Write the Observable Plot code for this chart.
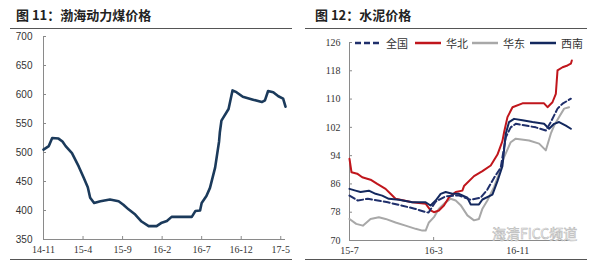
<!DOCTYPE html>
<html><head><meta charset="utf-8">
<script src="https://cdn.jsdelivr.net/npm/d3@7"></script>
<script src="https://cdn.jsdelivr.net/npm/@observablehq/plot@0.6"></script>
<style>
html,body{margin:0;padding:0;background:#fff;}
#wrap{position:relative;width:600px;height:268px;overflow:hidden;font-family:"Noto Sans CJK SC",sans-serif;}
.title{position:absolute;top:5px;font-size:13px;font-weight:bold;color:#222;white-space:nowrap;}
.rule{position:absolute;height:0;border-top:1px solid #555;}
.chart{position:absolute;top:0;}
.leg{position:absolute;top:35px;font-size:11px;color:#333;display:flex;align-items:center;white-space:nowrap;}
.wm{position:absolute;left:492px;top:225px;font-size:14px;line-height:16px;color:#fff;-webkit-text-stroke:0.6px #b8b8b8;white-space:nowrap;font-family:"Noto Sans CJK SC",sans-serif;}
</style></head>
<body><div id="wrap">
<div class="title" style="left:16px">图 11：渤海动力煤价格</div>
<div class="title" style="left:315px">图 12：水泥价格</div>
<div class="rule" style="left:10px;width:282px;top:28px"></div>
<div class="rule" style="left:305px;width:282px;top:28px"></div>
<div class="rule" style="left:10px;width:282px;top:259px"></div>
<div class="rule" style="left:305px;width:282px;top:259px"></div>
<div id="left" class="chart" style="left:0"></div>
<div id="right" class="chart" style="left:300px"></div>
<div id="legend"></div>
<div class="wm">海清FICC频道</div>
</div>
<script>
// ---- Figure 11: Bohai thermal coal price ----
const coalMonth = [0,0.67,1.1,1.9,2.4,2.8,3.6,4.45,5.1,5.6,5.9,6.4,7.2,8.4,9.5,10.1,10.75,11.6,12.4,13.3,14.3,14.96,15.6,16.2,18.75,19.2,19.8,20,20.6,21.05,21.7,22.2,22.3,22.5,23.4,23.9,24.4,25.2,26.5,27.6,28,28.4,29.05,29.7,30.3,30.6];
const coalPrice = [505,511,525,524,519,511,499,476,456,440,422,413,416,419,416,410,402,393,381,373,373,379,382,389,389,399,400,413,425,439,474,519,535,555,575,607,604,596,591,587,590,606,604,597,593,579];
const coalTickMonths = [0,5,10,15,20,25,30];
const coalTickLabels = ["14-11","15-4","15-9","16-2","16-7","16-12","17-5"];
const coalYTicks = [350,400,450,500,550,600,650,700];

// ---- Figure 12: cement price index ----
const nationalMonth = [0,0.79,1.74,2.69,3.65,4.92,6.19,7.3,7.52,8.19,9.14,10.38,11.52,12.47,13.11,13.74,14.38,14.86,15.33,15.81,16.76,17.71,18.67,19.14,19.46,19.78,20.26,21.05];
const nationalIndex = [82.7,81.3,81.8,81.3,80.8,79.9,79.0,78.0,77.9,81.0,82.5,82.8,81.5,82.1,84.4,87.7,90.6,99.2,102.0,103.0,102.5,102.0,101.1,103.5,105.4,107.3,108.7,110.1];
const northMonth = [0,0.19,0.73,1.21,2.0,2.64,3.43,3.9,4.38,5.17,5.97,7.24,7.71,8.03,8.5,8.98,9.46,10.1,10.73,10.89,11.84,12.64,13.43,14.07,14.54,14.7,15.02,15.5,16.45,18.5,18.83,19.3,19.62,19.78,20.26,20.73,21.05,21.14];
const northIndex = [93.1,89.3,88.9,87.9,87.2,86.0,84.6,83.2,81.8,81.3,80.8,80.4,78.5,78.0,78.5,79.9,82.2,83.7,84.1,85.4,88.2,89.6,91.2,94.3,98.1,100.6,104.9,107.7,108.8,108.8,107.7,109.1,111.5,118.1,119.0,119.5,120.0,120.9];
const eastMonth = [0,0.64,1.27,2.0,2.79,3.43,4.38,5.33,6.29,6.92,7.24,7.55,8.03,8.5,9.14,9.62,10.1,10.57,11.21,11.84,12.31,12.64,13.11,13.74,14.22,14.7,15.33,15.81,17.08,18.03,18.67,19.14,19.46,19.93,20.41,20.88];
const eastIndex = [76.1,74.7,74.2,76.1,76.6,76.1,75.1,74.2,73.3,72.8,72.8,75.1,76.6,79.0,80.8,81.8,81.3,80.0,77.1,75.7,76.1,79.0,81.3,85.1,88.9,93.6,97.8,98.8,98.3,97.4,95.5,100.2,102.5,104.9,107.3,107.7];
const southwestMonth = [0,0.57,1.05,1.84,2.48,3.11,3.74,4.7,5.97,7.24,7.71,8.19,8.67,9.14,9.78,10.41,11.21,11.52,12.31,12.64,13.59,14.07,14.54,14.71,14.86,15.17,15.65,16.45,17.4,18.5,18.98,19.46,19.93,20.57,21.05];
const southwestIndex = [84.6,84.1,83.7,84.1,83.2,82.7,81.8,81.5,80.8,80.8,79.9,81.3,83.2,83.7,83.2,83.2,82.1,80.2,80.2,81.6,83.0,86.8,91.0,96.0,100.2,103.5,104.4,104.0,103.5,103.0,101.6,103.0,103.5,102.5,101.6];
const cementTickMonths = [0,8,16];
const cementTickLabels = ["15-7","16-3","16-11"];
const cementYTicks = [70,78,86,94,102,110,118,126];
const seriesNames = ["全国","华北","华东","西南"];
const seriesColors = ["#1f2f6b","#c0161c","#a8a8a8","#13285e"];

const zip = (xs, ys) => xs.map((x, i) => ({x, y: ys[i]}));
const axisColor = "#8a8a8a";
const serif = "'Liberation Serif','Times New Roman',serif";

const left = Plot.plot({
  width: 300, height: 268,
  marginLeft: 43, marginRight: 15, marginTop: 36, marginBottom: 29,
  style: {background: "transparent", color: "#333"},
  x: {domain: [0, 30.6]},
  y: {domain: [350, 700]},
  marks: [
    Plot.axisY({ticks: coalYTicks, tickSize: -3, tickPadding: 14, stroke: axisColor, fontSize: 10, fontFamily: "'Liberation Sans',Arial,sans-serif", label: null, color: "#333"}),
    Plot.axisX({ticks: coalTickMonths, tickFormat: (d) => coalTickLabels[coalTickMonths.indexOf(d)], tickSize: -3, tickPadding: 9, stroke: axisColor, fontSize: 10, fontFamily: serif, label: null}),
    Plot.ruleX([0], {stroke: axisColor}),
    Plot.ruleY([350], {stroke: axisColor}),
    Plot.line(zip(coalMonth, coalPrice), {x: "x", y: "y", stroke: "#1b3a5b", strokeWidth: 2.6})
  ]
});
document.getElementById("left").appendChild(left);

const sw = 2;
const right = Plot.plot({
  width: 300, height: 268,
  marginLeft: 49, marginRight: 27, marginTop: 42, marginBottom: 28,
  style: {background: "transparent", color: "#333"},
  x: {domain: [0, 21.3]},
  y: {domain: [70, 126]},
  marks: [
    Plot.axisY({ticks: cementYTicks, tickSize: -3, tickPadding: 12, stroke: axisColor, fontSize: 10, fontFamily: serif, label: null}),
    Plot.axisX({ticks: cementTickMonths, tickFormat: (d) => cementTickLabels[cementTickMonths.indexOf(d)], tickSize: -3, tickPadding: 9, stroke: axisColor, fontSize: 10, fontFamily: serif, label: null}),
    Plot.ruleX([0], {stroke: axisColor}),
    Plot.ruleY([70], {stroke: axisColor}),
    Plot.line(zip(eastMonth, eastIndex), {x: "x", y: "y", stroke: seriesColors[2], strokeWidth: sw}),
    Plot.line(zip(northMonth, northIndex), {x: "x", y: "y", stroke: seriesColors[1], strokeWidth: sw}),
    Plot.line(zip(southwestMonth, southwestIndex), {x: "x", y: "y", stroke: seriesColors[3], strokeWidth: sw}),
    Plot.line(zip(nationalMonth, nationalIndex), {x: "x", y: "y", stroke: seriesColors[0], strokeWidth: sw, strokeDasharray: "6,3"})
  ]
});
document.getElementById("right").appendChild(right);

// legend inside the cement chart
const legLefts = [355, 415, 472, 530];
const legend = document.getElementById("legend");
seriesNames.forEach((name, i) => {
  const d = document.createElement("div");
  d.className = "leg";
  d.style.left = legLefts[i] + "px";
  const dash = i === 0 ? ' stroke-dasharray="6,3"' : '';
  d.innerHTML = `<svg width="26" height="6" style="margin-right:5px"><line x1="0" y1="3" x2="26" y2="3" stroke="${seriesColors[i]}" stroke-width="2.5"${dash}/></svg><span>${name}</span>`;
  legend.appendChild(d);
});
</script>
</body></html>
